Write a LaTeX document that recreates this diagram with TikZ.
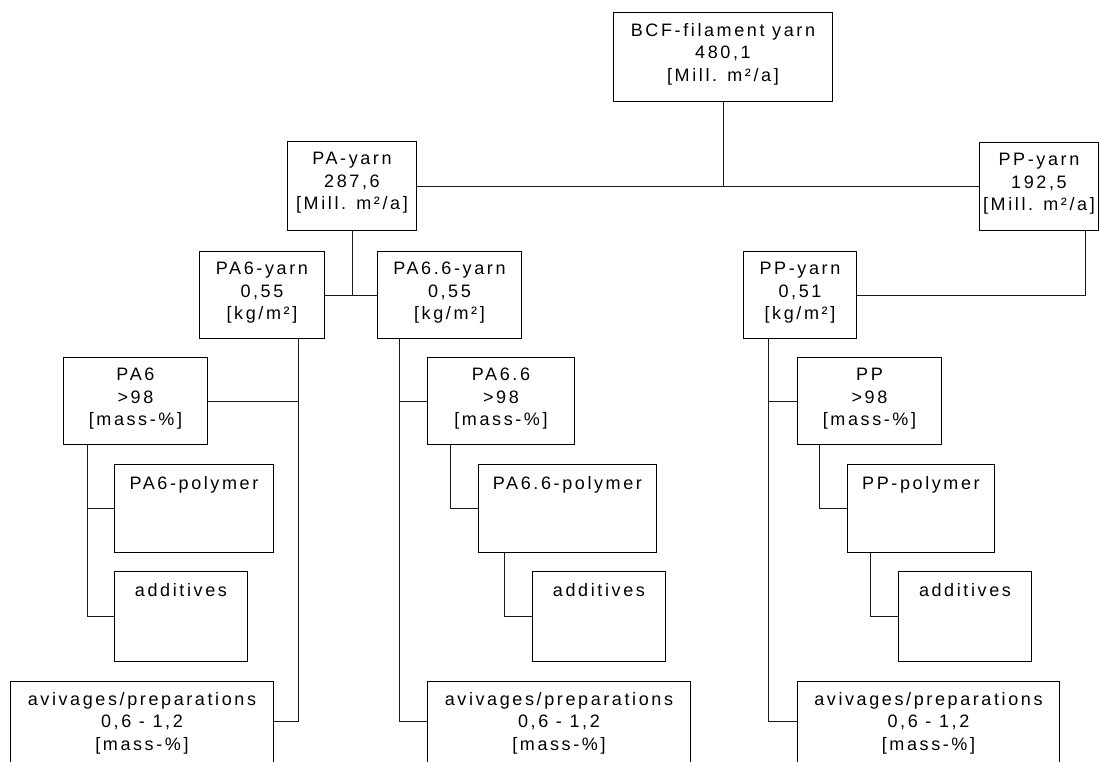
\documentclass[tikz,border=0pt]{standalone}
\usepackage{fontspec}
\newfontfamily\boxfont{Liberation Sans}[LetterSpace=14.5]
\begin{document}
\begin{tikzpicture}[x=1pt,y=-1pt,
  box/.style={draw=black, line width=0.9pt, inner sep=0pt, anchor=north west},
  link/.style={draw=black!90, line width=0.9pt},
  txt/.style={anchor=north, inner sep=0pt, align=center, yshift=-11pt,
    font=\boxfont\fontsize{18}{22.5}\selectfont,
    execute at begin node=\rule{0pt}{14pt}}]
\useasboundingbox (0,0) rectangle (1099,762);
\clip (0,0) rectangle (1099,762);

% boxes
\node[box, minimum width=219, minimum height=89] (bcf) at (613,12) {};
\node[box, minimum width=129, minimum height=89] (pa) at (287,141) {};
\node[box, minimum width=119, minimum height=88] (pp) at (979,142) {};
\node[box, minimum width=125, minimum height=87] (pa6y) at (199,251) {};
\node[box, minimum width=144, minimum height=87] (pa66y) at (377,251) {};
\node[box, minimum width=113, minimum height=87] (ppy) at (743,251) {};

\node[box, minimum width=144, minimum height=87] (pa6) at (63,357) {};
\node[box, minimum width=159, minimum height=88] (pa6pol) at (114,464) {};
\node[box, minimum width=133, minimum height=90] (pa6add) at (114,571) {};
\node[box, minimum width=263, minimum height=95] (pa6av) at (10,681) {};

\node[box, minimum width=147, minimum height=87] (pa66) at (427,357) {};
\node[box, minimum width=178, minimum height=88] (pa66pol) at (478,464) {};
\node[box, minimum width=133, minimum height=90] (pa66add) at (532,571) {};
\node[box, minimum width=263, minimum height=95] (pa66av) at (427,681) {};

\node[box, minimum width=144, minimum height=87] (ppb) at (797,357) {};
\node[box, minimum width=147, minimum height=88] (pppol) at (847,464) {};
\node[box, minimum width=133, minimum height=90] (ppadd) at (898,571) {};
\node[box, minimum width=262, minimum height=95] (ppav) at (797,681) {};

% texts
\node[txt] (bcf-t) at (bcf.north) {BCF-filament yarn\\480,1\\{[}Mill. m²/a{]}};
\node[txt] (pa-t) at (pa.north) {PA-yarn\\287,6\\{[}Mill. m²/a{]}};
\node[txt] (pp-t) at (pp.north) {PP-yarn\\192,5\\{[}Mill. m²/a{]}};
\node[txt] (pa6y-t) at (pa6y.north) {PA6-yarn\\0,55\\{[}kg/m²{]}};
\node[txt] (pa66y-t) at (pa66y.north) {PA6.6-yarn\\0,55\\{[}kg/m²{]}};
\node[txt] (ppy-t) at (ppy.north) {PP-yarn\\0,51\\{[}kg/m²{]}};

\node[txt] (pa6-t) at (pa6.north) {PA6\\>98\\{[}mass-\%{]}};
\node[txt] (pa6pol-t) at (pa6pol.north) {PA6-polymer};
\node[txt] (pa6add-t) at (pa6add.north) {additives};
\node[txt] (pa6av-t) at (pa6av.north) {avivages/preparations\\0,6 - 1,2\\{[}mass-\%{]}};

\node[txt] (pa66-t) at (pa66.north) {PA6.6\\>98\\{[}mass-\%{]}};
\node[txt] (pa66pol-t) at (pa66pol.north) {PA6.6-polymer};
\node[txt] (pa66add-t) at (pa66add.north) {additives};
\node[txt] (pa66av-t) at (pa66av.north) {avivages/preparations\\0,6 - 1,2\\{[}mass-\%{]}};

\node[txt] (ppb-t) at (ppb.north) {PP\\>98\\{[}mass-\%{]}};
\node[txt] (pppol-t) at (pppol.north) {PP-polymer};
\node[txt] (ppadd-t) at (ppadd.north) {additives};
\node[txt] (ppav-t) at (ppav.north) {avivages/preparations\\0,6 - 1,2\\{[}mass-\%{]}};

% top level connectors
\draw[link] (bcf.south) -- (bcf.south |- pa.east);
\draw[link] (pa.east) -- (pa.east -| pp.west);
\draw[link] (pa.south) -- (pa.south |- pa6y.east);
\draw[link] (pa6y.east) -- (pa66y.west);
\draw[link] ([xshift=-13pt]pp.south east) |- (ppy.east);

% PA6 branch
\coordinate (pa6-bus) at ([xshift=-26pt]pa6y.south east);
\draw[link] (pa6-bus) |- ([yshift=-40pt]pa6av.north east);
\draw[link] (pa6.east) -- (pa6.east -| pa6-bus);
\coordinate (pa6-stem) at ([xshift=24pt]pa6.south west);
\draw[link] (pa6-stem) |- (pa6add.west);
\draw[link] (pa6pol.west) -- (pa6pol.west -| pa6-stem);

% PA6.6 branch
\coordinate (pa66-bus) at ([xshift=22pt]pa66y.south west);
\draw[link] (pa66-bus) |- ([yshift=-40pt]pa66av.north west);
\draw[link] (pa66.west) -- (pa66.west -| pa66-bus);
\draw[link] ([xshift=23pt]pa66.south west) |- (pa66pol.west);
\draw[link] ([xshift=26pt]pa66pol.south west) |- (pa66add.west);

% PP branch
\coordinate (pp-bus) at ([xshift=25pt]ppy.south west);
\draw[link] (pp-bus) |- ([yshift=-40pt]ppav.north west);
\draw[link] (ppb.west) -- (ppb.west -| pp-bus);
\draw[link] ([xshift=22pt]ppb.south west) |- (pppol.west);
\draw[link] ([xshift=23pt]pppol.south west) |- (ppadd.west);
\end{tikzpicture}
\end{document}
